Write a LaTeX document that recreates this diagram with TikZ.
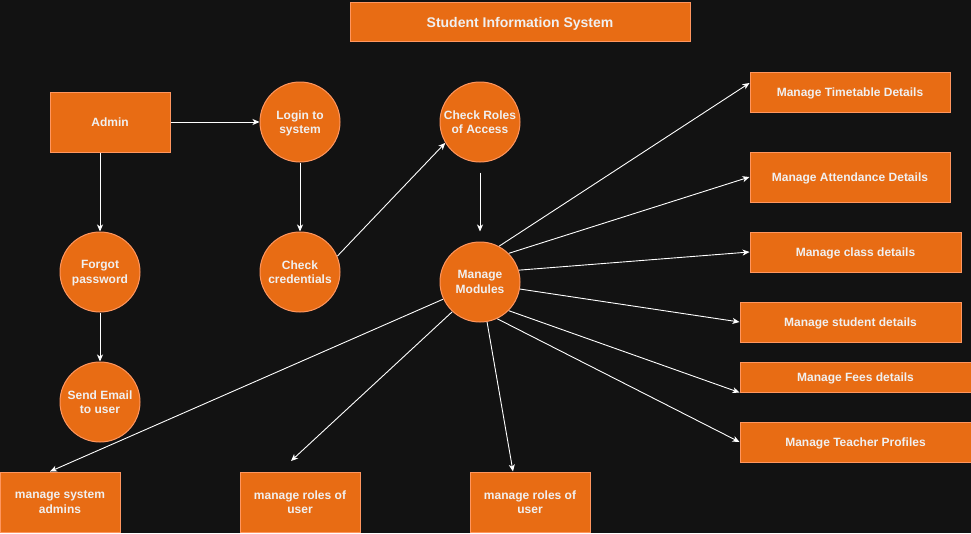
\documentclass[tikz,border=0pt]{standalone}
\usepackage{fontspec}
\setmainfont{Liberation Sans}
\usetikzlibrary{arrows.meta}
\definecolor{bgdark}{RGB}{18,18,18}
\definecolor{sisfill}{RGB}{232,108,20}
\definecolor{sisline}{RGB}{255,150,95}
\definecolor{sistext}{RGB}{240,240,240}
\pgfdeclarelayer{bg}
\pgfsetlayers{bg,main}
\tikzset{
    every node/.style={draw=sisline, fill=sisfill, text=sistext, line width=1pt,
        inner sep=0pt, align=center, text depth=0pt, font=\fontsize{12}{14.7}\selectfont\bfseries}
}
\tikzset{proc/.style={circle, minimum size=80pt}}
\tikzset{ent/.style 2 args={rectangle, minimum width=#1, minimum height=#2}}
\tikzset{flow/.style={draw=white, line width=0.9pt, -{Stealth[length=7pt, width=6pt, inset=2pt]}}}

\begin{document}
\begin{tikzpicture}[x=1pt, y=-1pt]
    \useasboundingbox (0,0) rectangle (971,533);

    \node (title) at (520,22) [ent={340pt}{39pt}, font=\fontsize{14}{17}\selectfont\bfseries] {Student Information System};

    \node (admin) at (110,122) [ent={120pt}{60pt}] {Admin};
    \node (login) at (300,122) [proc] {Login to\\system};
    \node (forgot) at (100,272) [proc] {Forgot\\password};
    \node (email) at (100,402) [proc] {Send Email\\to user};
    \node (cred) at (300,272) [proc] {Check\\credentials};
    \node (roles) at (480,122) [proc] {Check Roles\\of Access};
    \node (modules) at (480,282) [proc] {Manage\\Modules};

    \node (timetable) at (850,92) [ent={200pt}{40pt}] {Manage Timetable Details};
    \node (attend) at (850,177) [ent={200pt}{50pt}] {Manage Attendance Details};
    \node (class) at (855.5,252) [ent={211pt}{40pt}] {Manage class details};
    \node (student) at (850.5,322) [ent={221pt}{40pt}] {Manage student details};
    \node (fees) at (855.5,377) [ent={231pt}{30pt}] {Manage Fees details};
    \node (teacher) at (855.5,442) [ent={231pt}{40pt}] {Manage Teacher Profiles};

    \node (sysadm) at (60,502) [ent={120pt}{60pt}] {manage system\\admins};
    \node (userroles) at (300,502) [ent={120pt}{60pt}] {manage roles of\\user};
    \node (userrolesb) at (530,502) [ent={120pt}{60pt}] {manage roles of\\user};

    \coordinate (rolesend) at (291,461);

    \begin{pgfonlayer}{bg}
        \fill[bgdark] (0,0) rectangle (971,533);
        \draw[flow] (admin) -- (login);
        \draw[flow] (admin.south -| forgot) -- (forgot);
        \draw[flow] (login) -- (cred);
        \draw[flow] (forgot) -- (email);
        \draw[flow] (cred.23) -- (roles.211);
        \draw[flow, shorten <=10pt, shorten >=10pt] (roles) -- (modules);
        \draw[flow] (modules.62) -- ([yshift=9pt]timetable.west);
        \draw[flow] (modules.45) -- (attend.west);
        \draw[flow] (modules.17) -- (class.west);
        \draw[flow] (modules.-10) -- (student.west);
        \draw[flow] (modules.-45) -- (fees.south west);
        \draw[flow] (modules.-65) -- (teacher.west);
        \draw[flow] (modules.205) -- ([xshift=-10pt]sysadm.north);
        \draw[flow] (modules.227) -- (rolesend);
        \draw[flow] (modules.280) -- ([xshift=-17pt]userrolesb.north);
    \end{pgfonlayer}
\end{tikzpicture}
\end{document}
